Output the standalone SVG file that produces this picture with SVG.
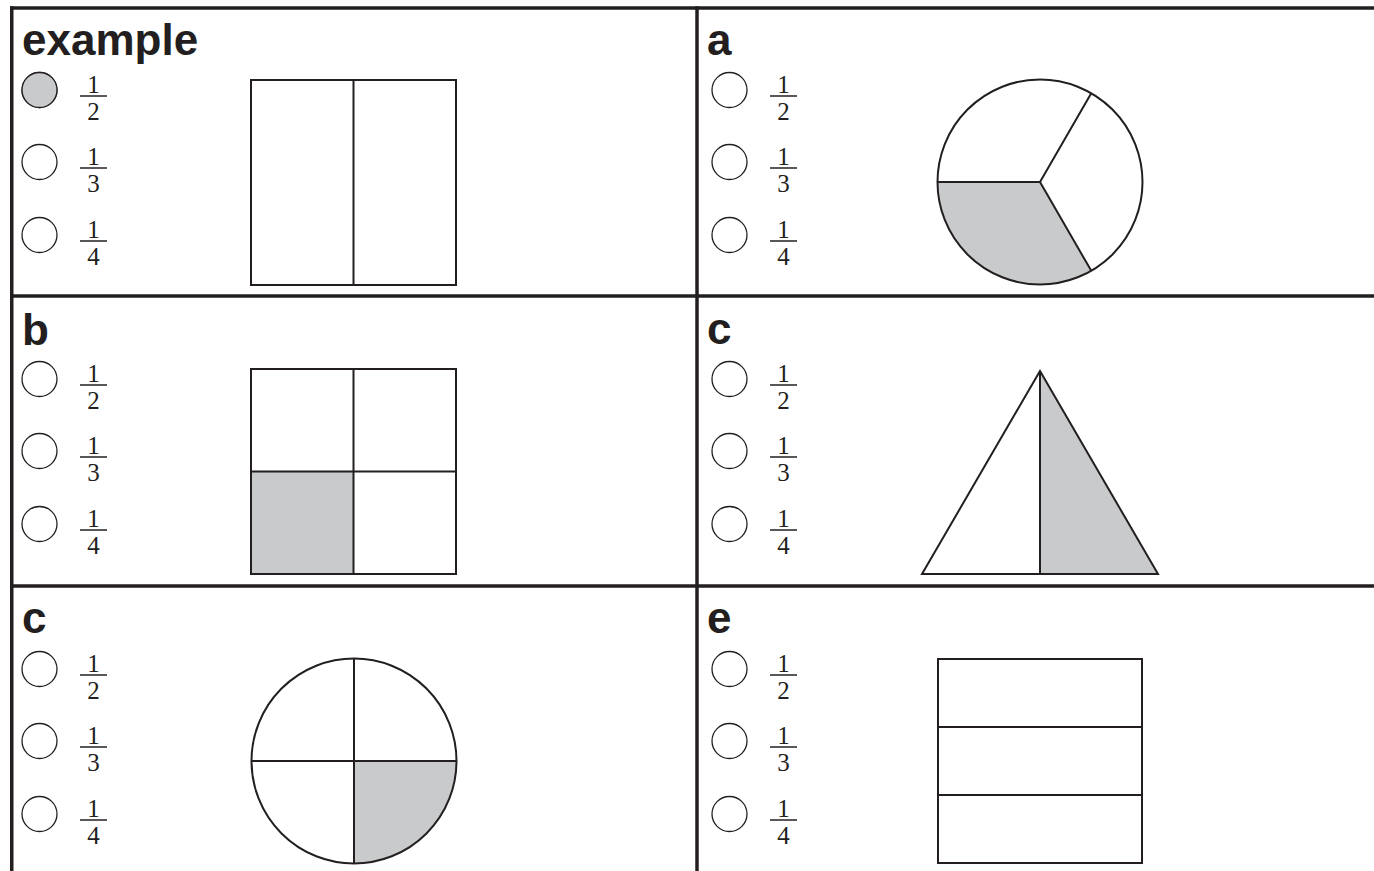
<svg xmlns="http://www.w3.org/2000/svg" width="1374" height="871" viewBox="0 0 1374 871">
<style>
.frame{stroke:#231f20;stroke-width:3.5;fill:none}
.shape{stroke:#231f20;stroke-width:2;fill:none}
.shade{fill:#c9cacb;stroke:none}
.radio{stroke:#231f20;stroke-width:1.3;fill:#fff}
.radio.on{fill:#c9cacb}
.bar{stroke:#231f20;stroke-width:1.5}
.lbl{font-family:"Liberation Sans","DejaVu Sans",sans-serif;font-weight:bold;font-size:44px;fill:#231f20}
.num{font-family:"Liberation Serif","DejaVu Serif",serif;font-size:25px;fill:#231f20;text-anchor:middle}
</style>
<defs>
<g id="opts">
<circle class="radio" cx="39.5" cy="0" r="17.5"/>
<circle class="radio" cx="39.5" cy="72" r="17.5"/>
<circle class="radio" cx="39.5" cy="145" r="17.5"/>
<line class="bar" x1="80" y1="6" x2="107" y2="6"/>
<text class="num" x="93.5" y="3">1</text>
<text class="num" x="93.5" y="30">2</text>
<line class="bar" x1="80" y1="78" x2="107" y2="78"/>
<text class="num" x="93.5" y="75">1</text>
<text class="num" x="93.5" y="102">3</text>
<line class="bar" x1="80" y1="151" x2="107" y2="151"/>
<text class="num" x="93.5" y="148">1</text>
<text class="num" x="93.5" y="175">4</text>
</g>
</defs>
<rect width="1374" height="871" fill="#fff"/>
<g id="grid">
<line class="frame" x1="10" y1="8" x2="1374" y2="8"/>
<line class="frame" x1="11.75" y1="6.25" x2="11.75" y2="871"/>
<line class="frame" x1="697" y1="6.25" x2="697" y2="871"/>
<line class="frame" x1="10" y1="296" x2="1374" y2="296"/>
<line class="frame" x1="10" y1="586" x2="1374" y2="586"/>
</g>
<g id="example">
<text class="lbl" x="22" y="55">example</text>
<use href="#opts" y="90"/>
<circle class="radio on" cx="39.5" cy="90" r="17.5"/>
<rect class="shape" x="251" y="80" width="205" height="205"/>
<line class="shape" x1="353.5" y1="80" x2="353.5" y2="285"/>
</g>
<g id="a">
<text class="lbl" x="707" y="55">a</text>
<use href="#opts" x="690" y="90"/>
<path class="shade" d="M1040,182 L937.5,182 A102.5,102.5 0 0 0 1091.25,270.77 Z"/>
<circle class="shape" cx="1040" cy="182" r="102.5"/>
<path class="shape" d="M937.5,182 L1040,182 L1091.25,93.23 M1040,182 L1091.25,270.77"/>
</g>
<g id="b">
<text class="lbl" x="22" y="345">b</text>
<use href="#opts" y="379"/>
<rect class="shade" x="251" y="471.5" width="102.5" height="102.5"/>
<rect class="shape" x="251" y="369" width="205" height="205"/>
<line class="shape" x1="353.5" y1="369" x2="353.5" y2="574"/>
<line class="shape" x1="251" y1="471.5" x2="456" y2="471.5"/>
</g>
<g id="c1">
<text class="lbl" x="707" y="344">c</text>
<use href="#opts" x="690" y="379"/>
<polygon class="shade" points="1040,371 1158,574 1040,574"/>
<polygon class="shape" points="1040,371 1158,574 922,574"/>
<line class="shape" x1="1040" y1="371" x2="1040" y2="574"/>
</g>
<g id="c2">
<text class="lbl" x="22" y="633">c</text>
<use href="#opts" y="669"/>
<path class="shade" d="M354,761 L456.5,761 A102.5,102.5 0 0 1 354,863.5 Z"/>
<circle class="shape" cx="354" cy="761" r="102.5"/>
<line class="shape" x1="251.5" y1="761" x2="456.5" y2="761"/>
<line class="shape" x1="354" y1="658.5" x2="354" y2="863.5"/>
</g>
<g id="e">
<text class="lbl" x="707" y="633">e</text>
<use href="#opts" x="690" y="669"/>
<rect class="shape" x="938" y="659" width="204" height="204"/>
<line class="shape" x1="938" y1="727" x2="1142" y2="727"/>
<line class="shape" x1="938" y1="795" x2="1142" y2="795"/>
</g>
<g id="connectors"></g>
</svg>
